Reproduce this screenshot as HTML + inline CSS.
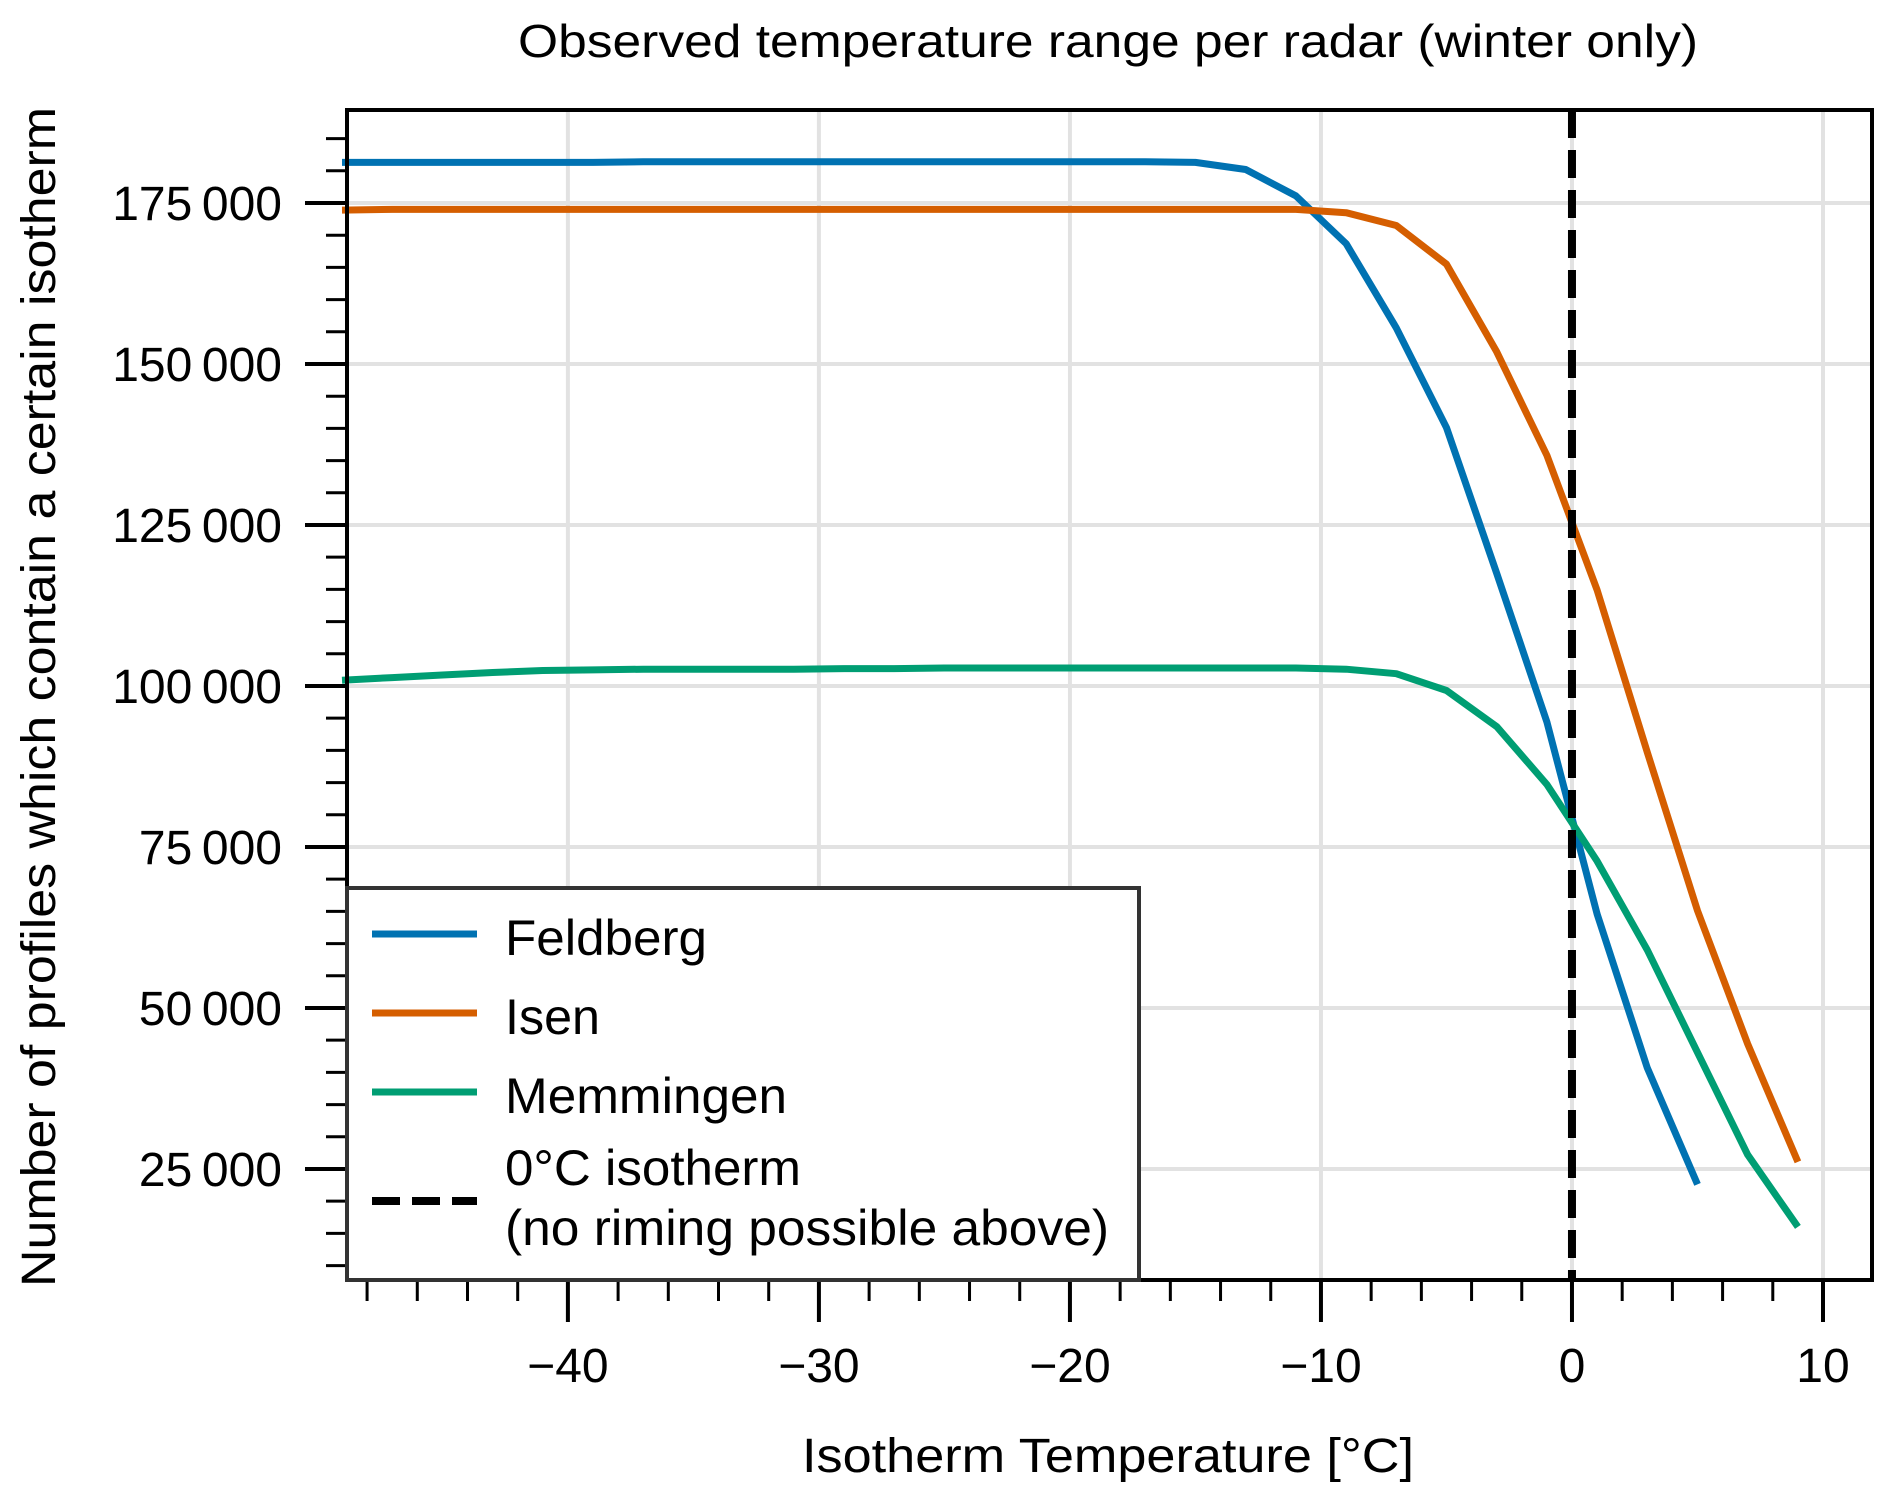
<!DOCTYPE html>
<html><head><meta charset="utf-8">
<style>
html,body{margin:0;padding:0;background:#fff;}
svg{display:block;font-family:"Liberation Sans",Arial,sans-serif;}
</style></head>
<body>
<svg id="chart" width="1892" height="1503" viewBox="0 0 1892 1503" xmlns="http://www.w3.org/2000/svg">
<rect width="1892" height="1503" fill="#fff"/>
<g id="grid"></g>
<g id="series"></g>
<g id="axes"></g>
<text x="1108" y="57" font-size="46" text-anchor="middle" textLength="1180" lengthAdjust="spacingAndGlyphs">Observed temperature range per radar (winter only)</text>
<text x="1108" y="1472" font-size="48" text-anchor="middle" textLength="612" lengthAdjust="spacingAndGlyphs">Isotherm Temperature [°C]</text>
<text transform="translate(55,697) rotate(-90)" font-size="48" text-anchor="middle" textLength="1180" lengthAdjust="spacingAndGlyphs">Number of profiles which contain a certain isotherm</text>
<g id="legend">
  <rect x="347" y="888" width="792" height="392" fill="#fff" stroke="#333" stroke-width="4"/>
  <g>
    <line x1="372" y1="934" x2="477" y2="934" stroke="#0072B2" stroke-width="7"/>
    <text x="505" y="955" font-size="50" textLength="202" lengthAdjust="spacingAndGlyphs">Feldberg</text>
  </g>
  <g>
    <line x1="372" y1="1013" x2="477" y2="1013" stroke="#D55E00" stroke-width="7"/>
    <text x="505" y="1034" font-size="50" textLength="95" lengthAdjust="spacingAndGlyphs">Isen</text>
  </g>
  <g>
    <line x1="372" y1="1092" x2="477" y2="1092" stroke="#009E73" stroke-width="7"/>
    <text x="505" y="1113" font-size="50" textLength="282" lengthAdjust="spacingAndGlyphs">Memmingen</text>
  </g>
  <g>
    <line x1="372" y1="1201" x2="477" y2="1201" stroke="#000" stroke-width="8" stroke-dasharray="28,12"/>
    <text x="505" y="1185" font-size="50" textLength="296" lengthAdjust="spacingAndGlyphs">0°C isotherm</text>
    <text x="505" y="1245" font-size="50" textLength="604" lengthAdjust="spacingAndGlyphs">(no riming possible above)</text>
  </g>
</g>
</svg>
<script>
const temps = [-49,-47,-45,-43,-41,-39,-37,-35,-33,-31,-29,-27,-25,-23,-21,-19,-17,-15,-13,-11,-9,-7,-5,-3,-1,1,3,5,7,9];
const feldberg = [181300,181300,181300,181300,181300,181300,181400,181400,181400,181400,181400,181400,181400,181400,181400,181400,181400,181300,180200,176100,168700,155600,140100,117500,94400,64600,40700,22600];
const isen = [173900,174000,174000,174000,174000,174000,174000,174000,174000,174000,174000,174000,174000,174000,174000,174000,174000,174000,174000,174000,173500,171500,165500,151900,135800,114900,89700,65100,44400,26100];
const memmingen = [100900,101300,101700,102100,102400,102500,102600,102600,102600,102600,102700,102700,102800,102800,102800,102800,102800,102800,102800,102800,102600,101900,99300,93700,84700,72800,59000,43100,27200,16000];
const xTicks = [-40,-30,-20,-10,0,10];
const xTickLabels = ["\u221240","\u221230","\u221220","\u221210","0","10"];
const yTicks = [25000,50000,75000,100000,125000,150000,175000];
const yTickLabels = ["25\u2009000","50\u2009000","75\u2009000","100\u2009000","125\u2009000","150\u2009000","175\u2009000"];

const L=347,R=1872,T=110,B=1280;
const xMin=-48.8, xMax=(R-1572)/25.1;
const yMin=7760, yMax=189440;
const sx=v=>L+(v-xMin)/(xMax-xMin)*(R-L);
const sy=v=>B-(v-yMin)/(yMax-yMin)*(B-T);
const NS="http://www.w3.org/2000/svg";
function mk(tag,attrs,parent){const e=document.createElementNS(NS,tag);for(const k in attrs)e.setAttribute(k,attrs[k]);parent.appendChild(e);return e;}
const grid=document.getElementById('grid'),axes=document.getElementById('axes'),series=document.getElementById('series');

xTicks.forEach((t,i)=>{
  const x=sx(t);
  const g=mk('line',{x1:x,y1:T,x2:x,y2:B,stroke:'#e2e2e2','stroke-width':4},grid);
  
  
  const tk=mk('line',{x1:x,y1:B,x2:x,y2:B+42,stroke:'#000','stroke-width':4},axes);
  
  
  const lb=mk('text',{x:x,y:1382,'font-size':48,'text-anchor':'middle'},axes);
  lb.textContent=xTickLabels[i];
  
  
});
for(let t=-48;t<=xMax;t+=2){
  if(t%10===0)continue;
  const x=sx(t);
  const tk=mk('line',{x1:x,y1:B,x2:x,y2:B+21,stroke:'#000','stroke-width':3},axes);
  
  
}
yTicks.forEach((t,i)=>{
  const y=sy(t);
  const g=mk('line',{x1:L,y1:y,x2:R,y2:y,stroke:'#e2e2e2','stroke-width':4},grid);
  
  
  const tk=mk('line',{x1:L-42,y1:y,x2:L,y2:y,stroke:'#000','stroke-width':4},axes);
  
  
  const lb=mk('text',{x:282,y:y+17,'font-size':48,'text-anchor':'end'},axes);
  lb.textContent=yTickLabels[i];
  
  
});
for(let t=10000;t<=yMax;t+=5000){
  if(t%25000===0)continue;
  const y=sy(t);
  const tk=mk('line',{x1:L-21,y1:y,x2:L,y2:y,stroke:'#000','stroke-width':3},axes);
  
  
}
const frame=mk('rect',{x:L,y:T,width:R-L,height:B-T,fill:'none',stroke:'#000','stroke-width':4},axes);



function drawSeries(vals,color,name){
  const pts=vals.map((v,i)=>sx(temps[i]).toFixed(1)+','+sy(v).toFixed(1)).join(' ');
  const p=mk('polyline',{points:pts,fill:'none',stroke:color,'stroke-width':7,'stroke-linejoin':'round'},series);
  
  
}
drawSeries(feldberg,'#0072B2','feldberg-line');
drawSeries(isen,'#D55E00','isen-line');
drawSeries(memmingen,'#009E73','memmingen-line');
const z=mk('line',{x1:sx(0),y1:T,x2:sx(0),y2:B,stroke:'#000','stroke-width':8,'stroke-dasharray':'28,12'},series);


// bring legend to top
document.getElementById('chart').appendChild(document.getElementById('legend'));
</script>
</body></html>
